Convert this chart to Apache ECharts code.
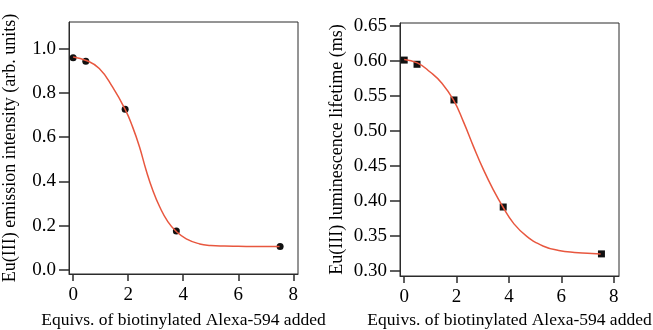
<!DOCTYPE html>
<html>
<head>
<meta charset="utf-8">
<script src="https://cdn.jsdelivr.net/npm/echarts@6/dist/echarts.min.js"></script>
<style>
  html, body { margin: 0; padding: 0; background: #fff; }
  #chart { width: 653px; height: 330px; }
</style>
</head>
<body>
<div id="chart"></div>
<script>
  // measured points, left: emission intensity
  const intX = [0, 0.46, 1.89, 3.75, 7.52];
  const intY = [0.958, 0.943, 0.726, 0.175, 0.105];
  // fitted curve
  const intFitX = [0, 0.5, 0.95, 1.43, 1.89, 2.16, 2.41, 2.65, 2.89, 3.14, 3.44, 3.75, 4.11, 4.6, 5.0, 5.5, 6.0, 6.8, 7.5];
  const intFitY = [0.962, 0.945, 0.91, 0.827, 0.725, 0.646, 0.556, 0.451, 0.361, 0.286, 0.218, 0.173, 0.14, 0.117, 0.11, 0.107, 0.106, 0.105, 0.105];

  // measured points, right: lifetime
  const lifeX = [0, 0.49, 1.9, 3.78, 7.53];
  const lifeY = [0.601, 0.595, 0.544, 0.391, 0.324];
  const lifeFitX = [0, 0.5, 0.99, 1.44, 1.88, 2.26, 2.65, 3.03, 3.41, 3.77, 4.17, 4.68, 5.32, 5.9, 6.5, 7.0, 7.5];
  const lifeFitY = [0.602, 0.597, 0.584, 0.568, 0.544, 0.513, 0.477, 0.444, 0.415, 0.391, 0.368, 0.349, 0.335, 0.329, 0.326, 0.325, 0.324];

  const xTicks = [0, 2, 4, 6, 8];
  const intTicks = [0, 0.2, 0.4, 0.6, 0.8, 1.0];
  const lifeTicks = [0.30, 0.35, 0.40, 0.45, 0.50, 0.55, 0.60, 0.65];

  const xName = 'Equivs. of biotinylated Alexa-594 added';
  const font = '"Liberation Serif", "Times New Roman", serif';
  const ink = '#2b2b2b';
  const red = '#e8573f';

  function zip(a, b) { return a.map((v, i) => [v, b[i]]); }

  function xAxis(idx, min, max, gap) {
    return {
      type: 'value', gridIndex: idx, min: min, max: max,
      name: xName, nameLocation: 'middle', nameGap: gap,
      nameTextStyle: { fontFamily: font, fontSize: 17.5, color: '#000' },
      axisLine: { show: true, onZero: false, lineStyle: { color: ink, width: 1 } },
      axisTick: { show: true, length: 7, customValues: xTicks, lineStyle: { color: ink, width: 1.5 } },
      axisLabel: { customValues: xTicks, margin: 12, fontFamily: font, fontSize: 19, color: '#000' },
      splitLine: { show: false }
    };
  }

  function yAxis(idx, min, max, ticks, name, gap, digits) {
    return {
      type: 'value', gridIndex: idx, min: min, max: max,
      name: name, nameLocation: 'middle', nameGap: gap,
      nameTextStyle: { fontFamily: font, fontSize: 18, color: '#000' },
      axisLine: { show: true, onZero: false, lineStyle: { color: ink, width: 1 } },
      axisTick: { show: true, length: 10, customValues: ticks, lineStyle: { color: ink, width: 1.5 } },
      axisLabel: {
        customValues: ticks, margin: 13, fontFamily: font, fontSize: 19, color: '#000',
        formatter: v => v.toFixed(digits)
      },
      splitLine: { show: false }
    };
  }

  const chart = echarts.init(document.getElementById('chart'));
  chart.setOption({
    animation: false,
    backgroundColor: '#fff',
    grid: [
      { left: 69, top: 22, width: 229, height: 252, outerBoundsMode: 'none', containLabel: false,
        show: true, borderColor: ink, borderWidth: 1, backgroundColor: 'transparent' },
      { left: 400, top: 23, width: 219, height: 253, outerBoundsMode: 'none', containLabel: false,
        show: true, borderColor: ink, borderWidth: 1, backgroundColor: 'transparent' }
    ],
    xAxis: [xAxis(0, -0.15, 8.17, 37), xAxis(1, -0.16, 8.2, 35)],
    yAxis: [
      yAxis(0, -0.019, 1.12, intTicks, 'Eu(III) emission intensity (arb. units)', 50, 1),
      yAxis(1, 0.2924, 0.654, lifeTicks, 'Eu(III) luminescence lifetime (ms)', 54, 2)
    ],
    series: [
      {
        type: 'line', xAxisIndex: 0, yAxisIndex: 0, data: zip(intFitX, intFitY),
        smooth: 0.5, showSymbol: false, lineStyle: { color: red, width: 1.5 }
      },
      {
        type: 'scatter', xAxisIndex: 0, yAxisIndex: 0, data: zip(intX, intY),
        symbol: 'circle', symbolSize: 7, itemStyle: { color: '#111', opacity: 1 }
      },
      {
        type: 'line', xAxisIndex: 1, yAxisIndex: 1, data: zip(lifeFitX, lifeFitY),
        smooth: 0.5, showSymbol: false, lineStyle: { color: red, width: 1.5 }
      },
      {
        type: 'scatter', xAxisIndex: 1, yAxisIndex: 1, data: zip(lifeX, lifeY),
        symbol: 'rect', symbolSize: 7, itemStyle: { color: '#111', opacity: 1 }
      }
    ]
  });
</script>
</body>
</html>
